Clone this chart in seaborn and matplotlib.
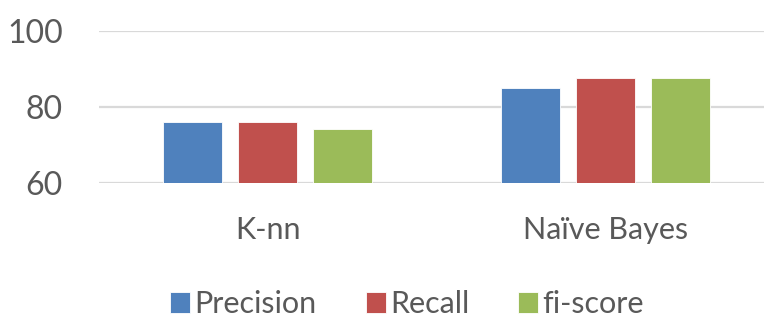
import matplotlib
matplotlib.use("Agg")
import matplotlib.pyplot as plt
import pandas as pd
import seaborn as sns

# values
models = ["K-nn", "Naïve Bayes"]
metrics = ["Precision", "Recall", "fi-score"]
precision = [76, 85]
recall = [76, 87.6]
fi_score = [74, 87.6]
y_ticks = [60, 80, 100]

colors = ["#4F81BD", "#C0504D", "#9BBB59"]
text_color = "#595959"

df = pd.DataFrame({
    "model": models * 3,
    "metric": [m for m in metrics for _ in models],
    "value": precision + recall + fi_score,
})

sns.set_style("white")
plt.rcParams["font.family"] = ["Lato", "DejaVu Sans"]

fig = plt.figure(figsize=(7.64, 3.22), dpi=100)
ax = fig.add_axes([0.1296, 0.4326, 0.8704, 0.4721])

sns.barplot(data=df, x="model", y="value", hue="metric", order=models,
            hue_order=metrics, palette=colors, width=0.667, gap=0.21,
            saturation=1, edgecolor="white", linewidth=0.6, ax=ax, zorder=3)

ax.set_ylim(60, 100)
ax.set_xlim(-0.5, 1.47)
ax.set_yticks(y_ticks)
ax.yaxis.grid(True, color="#D9D9D9", linewidth=1.6, zorder=0)
ax.set_axisbelow(True)
for s in ax.spines.values():
    s.set_visible(False)
ax.set_xlabel("")
ax.set_ylabel("")
ax.tick_params(axis="y", length=0, pad=26, labelsize=23, labelcolor=text_color)
ax.tick_params(axis="x", length=0, pad=24, labelsize=22, labelcolor=text_color)

handles, labels = ax.get_legend_handles_labels()
ax.legend_.remove()
fig.legend(handles, labels, loc="center", bbox_to_anchor=(0.533, 0.055), ncol=3,
           frameon=False, fontsize=22, handlelength=0.65, handleheight=0.65,
           handletextpad=0.15, columnspacing=1.6, labelcolor=text_color,
           borderpad=0)

fig.savefig("out.png", dpi=100)
